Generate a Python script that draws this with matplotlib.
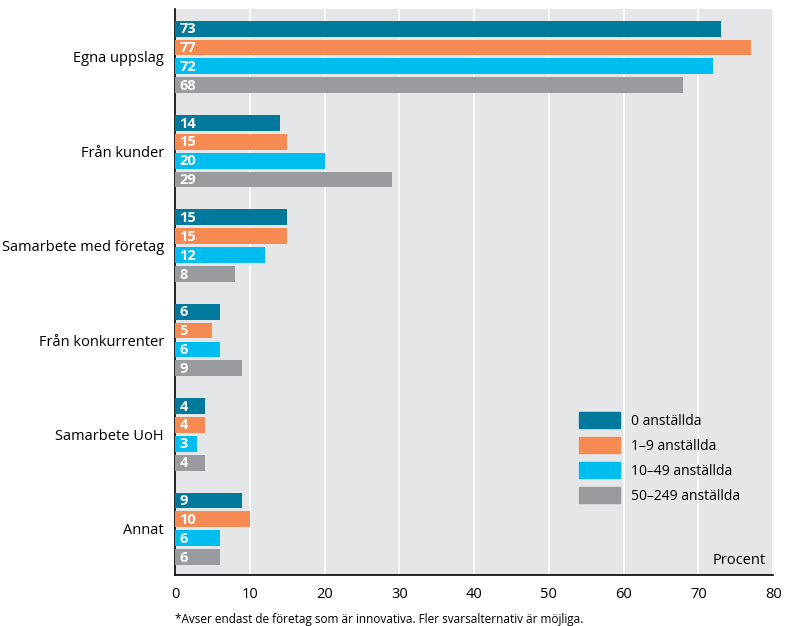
import numpy as np
import matplotlib.pyplot as plt
from matplotlib.patches import Patch

plt.rcParams['font.family'] = ['Open Sans', 'DejaVu Sans']

kategorier = ['Egna uppslag', 'Från kunder', 'Samarbete med företag',
              'Från konkurrenter', 'Samarbete UoH', 'Annat']
serier = ['0 anställda', '1–9 anställda', '10–49 anställda', '50–249 anställda']
varden = [
    [73, 14, 15, 6, 4, 9],
    [77, 15, 15, 5, 4, 10],
    [72, 20, 12, 6, 3, 6],
    [68, 29, 8, 9, 4, 6],
]
farger = ['#00799c', '#f58a52', '#00bdf0', '#9a9b9e']

fig = plt.figure(figsize=(7.85, 6.26), dpi=100)
ax = fig.add_axes([0.223, 0.0815, 0.762, 0.9045])
ax.set_facecolor('#e5e6e8')

grupp = 5
for j, (namn, v, c) in enumerate(zip(serier, varden, farger)):
    y = np.arange(len(kategorier)) * grupp + j
    ax.barh(y, v, height=0.84, color=c, label=namn, zorder=3)
    for yi, vi in zip(y, v):
        ax.text(0.6, yi + 0.03, str(vi), color='white', fontweight='bold',
                fontsize=10.5, va='center', ha='left', zorder=4)

ax.set_yticks(np.arange(len(kategorier)) * grupp + 1.5)
ax.set_yticklabels(kategorier, fontsize=10.5)
ax.set_ylim(28.95, -1.05)
ax.set_xlim(0, 80)
ax.set_xticks(range(0, 81, 10))
ax.tick_params(axis='both', length=0, labelsize=10.5)
ax.tick_params(axis='x', pad=9)
ax.tick_params(axis='y', pad=8)
ax.grid(axis='x', color='white', linewidth=1.2, zorder=1)
for s in ['top', 'right']:
    ax.spines[s].set_visible(False)
for s in ['left', 'bottom']:
    ax.spines[s].set_color('black')
    ax.spines[s].set_linewidth(1.2)

ax.text(79, 28.6, 'Procent', ha='right', va='bottom', fontsize=10.5)

handles = [Patch(color=c) for c in farger]
ax.legend(handles, serier, loc='upper left', bbox_to_anchor=(0.655, 0.31),
          frameon=False, fontsize=10, handlelength=2.9, handleheight=1.4,
          labelspacing=0.6, handletextpad=0.8)

fig.text(0.223, 0.0, '*Avser endast de företag som är innovativa. Fler svarsalternativ är möjliga.',
         fontsize=8.5, ha='left', va='bottom')

fig.savefig('out.png', dpi=100)
